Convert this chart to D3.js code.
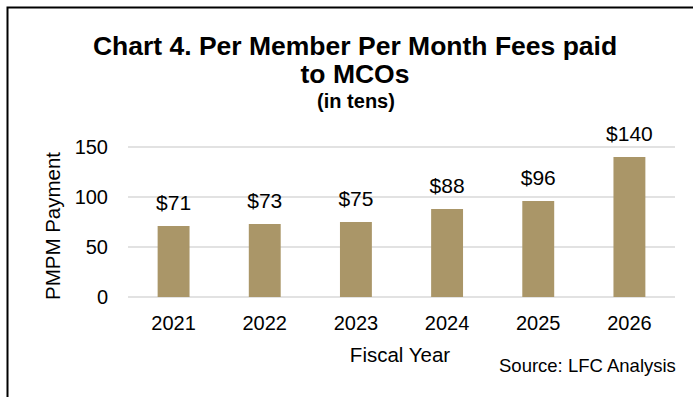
<!DOCTYPE html>
<html>
<head>
<meta charset="utf-8">
<script src="https://cdn.jsdelivr.net/npm/d3@7"></script>
<style>
  html, body { margin: 0; padding: 0; background: #fff; }
  svg { display: block; font-family: "Liberation Sans", Arial, sans-serif; }
</style>
</head>
<body>
<svg id="chart" width="693" height="397"></svg>
<script>
// Fiscal years and PMPM fees paid to MCOs (in tens of dollars)
const years = ["2021", "2022", "2023", "2024", "2025", "2026"];
const payments = [71, 73, 75, 88, 96, 140];
const yTicks = [0, 50, 100, 150];
const titleLines = ["Chart 4. Per Member Per Month Fees paid", "to MCOs"];
const subtitle = "(in tens)";
const yAxisTitle = "PMPM Payment";
const xAxisTitle = "Fiscal Year";
const sourceNote = "Source: LFC Analysis";

const svg = d3.select("#chart");
const W = 693, H = 397;
const plot = { left: 128, right: 675, top: 147, bottom: 297 };
const barColor = "#aa9668";
const gridColor = "#d9d9d9";
const textColor = "#000";
const FONT = "Liberation Sans, Arial, sans-serif";

// outer frame: left and top edges
svg.append("path")
  .attr("d", `M7.5,${H} V7.5 H${W}`)
  .attr("fill", "none")
  .attr("stroke", "#000")
  .attr("stroke-width", 2);

const x = d3.scaleBand().domain(years).range([plot.left, plot.right]).paddingInner(0.65).paddingOuter(0.325);
const y = d3.scaleLinear().domain([0, 150]).range([plot.bottom, plot.top]);

// gridlines
svg.append("g").selectAll("line").data(yTicks).join("line")
  .attr("x1", plot.left).attr("x2", plot.right)
  .attr("y1", d => y(d)).attr("y2", d => y(d))
  .attr("stroke", gridColor).attr("stroke-width", 1.5);

// y axis labels
const yAxis = d3.axisLeft(y).tickValues(yTicks).tickSize(0).tickPadding(0);
svg.append("g").attr("transform", `translate(108,0)`).call(yAxis)
  .call(g => g.select(".domain").remove())
  .call(g => g.selectAll("text").attr("font-size", 20).attr("fill", textColor)
    .attr("font-family", FONT));

// bars
svg.append("g").selectAll("rect").data(payments).join("rect")
  .attr("x", (d, i) => x(years[i]))
  .attr("width", x.bandwidth())
  .attr("y", d => y(d))
  .attr("height", d => y(0) - y(d))
  .attr("fill", barColor);

// value labels
svg.append("g").selectAll("text").data(payments).join("text")
  .attr("x", (d, i) => x(years[i]) + x.bandwidth() / 2)
  .attr("y", d => y(d) - 16)
  .attr("text-anchor", "middle")
  .attr("font-size", 21)
  .attr("fill", textColor)
  .text(d => "$" + d);

// x axis labels
const xAxis = d3.axisBottom(x).tickSize(0).tickPadding(0);
svg.append("g").attr("transform", `translate(0,${plot.bottom})`).call(xAxis)
  .call(g => g.select(".domain").remove())
  .call(g => g.selectAll("text").attr("font-size", 20).attr("fill", textColor)
    .attr("dy", null).attr("y", 33)
    .attr("font-family", FONT));

// titles
svg.append("g").selectAll("text").data(titleLines).join("text")
  .attr("x", 355)
  .attr("y", (d, i) => 55 + i * 28)
  .attr("text-anchor", "middle")
  .attr("font-size", 26.5)
  .attr("font-weight", "bold")
  .attr("fill", textColor)
  .text(d => d);

svg.append("text")
  .attr("x", 356).attr("y", 108)
  .attr("text-anchor", "middle")
  .attr("font-size", 20)
  .attr("font-weight", "bold")
  .attr("fill", textColor)
  .text(subtitle);

// axis titles
svg.append("text")
  .attr("transform", `translate(60,226) rotate(-90)`)
  .attr("text-anchor", "middle")
  .attr("font-size", 20.5)
  .attr("fill", textColor)
  .text(yAxisTitle);

svg.append("text")
  .attr("x", 400).attr("y", 362)
  .attr("text-anchor", "middle")
  .attr("font-size", 20.5)
  .attr("fill", textColor)
  .text(xAxisTitle);

svg.append("text")
  .attr("x", 499).attr("y", 372)
  .attr("font-size", 18.5)
  .attr("fill", textColor)
  .text(sourceNote);
</script>
</body>
</html>
